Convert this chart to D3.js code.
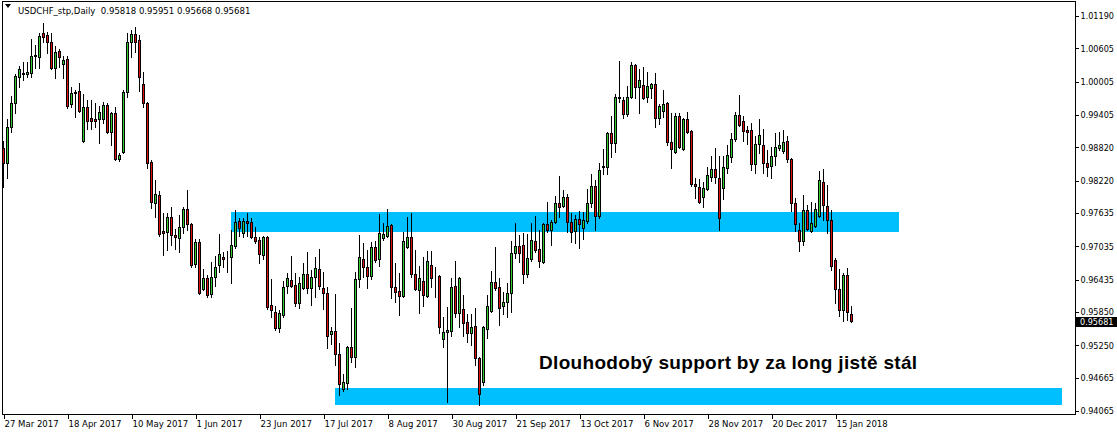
<!DOCTYPE html>
<html><head><meta charset="utf-8">
<script src="https://cdn.jsdelivr.net/npm/d3@7/dist/d3.min.js"></script>
<style>
html,body{margin:0;padding:0;background:#fff;}
svg{display:block;}
</style></head>
<body>
<svg id="c" width="1117" height="436"></svg>
<script>
// ---------- DATA ----------
const symbolTitle = "USDCHF_stp,Daily";
const lastQuote = [0.95818, 0.95951, 0.95668, 0.95681];
const xTickLabels = ["27 Mar 2017","18 Apr 2017","10 May 2017","1 Jun 2017","23 Jun 2017","17 Jul 2017","8 Aug 2017","30 Aug 2017","21 Sep 2017","13 Oct 2017","6 Nov 2017","28 Nov 2017","20 Dec 2017","15 Jan 2018"];
const xTickBars = [0,16,32,48,64,80,96,112,128,144,160,176,192,208];
const yTickValues = [1.01190,1.00605,1.00005,0.99405,0.98820,0.98220,0.97635,0.97035,0.96435,0.95850,0.95250,0.94665,0.94065];

const open = [.98811,.98540,.99190,.99622,1.00091,1.00145,1.00145,1.00163,1.00470,1.00452,
1.00885,1.00849,1.00722,1.00254,1.00560,1.00326,1.00416,.99604,.99803,.99839,
.98937,.99550,.99352,.99334,.99334,.99334,.99586,.99099,.99442,.98613,
.98739,.99821,1.00722,1.00867,1.00758,.99965,.99622,.98558,.97819,.97963,
.97314,.97296,.97566,.97242,.97188,.97386,.97711,.97440,.96718,.97115,
.96267,.96466,.96177,.96484,.96700,.96844,.96826,.96844,.97043,.97494,
.97278,.97494,.97476,.97206,.97151,.96881,.97206,.95979,.95853,.95564,
.95799,.96321,.96430,.96339,.96015,.96285,.96538,.96285,.96484,.96628,
.96285,.96195,.95456,.95510,.95095,.94464,.94572,.95221,.95041,.96448,
.96808,.96664,.96502,.97025,.96808,.97188,.97224,.97422,.96303,.96231,
.96141,.97025,.97206,.96538,.96249,.96412,.96141,.96700,.96484,.96502,
.95365,.95492,.95510,.96321,.95835,.95907,.95672,.95474,.95600,.95023,
.94590,.95546,.95871,.96394,.96303,.95961,.96033,.96195,.96917,.97043,
.97061,.96538,.96808,.97133,.96989,.96754,.97440,.97332,.97476,.97819,
.97765,.97927,.97476,.97314,.97530,.97368,.97494,.97819,.98125,.97584,
.98468,.98468,.99081,.98901,.99713,.99676,.99424,.99731,1.00308,.99911,
.99947,.99731,.99893,.99965,.99352,.99478,.99622,.98919,.98739,.99388,
.98793,.99334,.99117,.98161,.98107,.97927,.98071,.98288,.98432,.98270,
.98089,.98450,.98648,.98973,.99406,.99298,.99135,.99135,.98522,.98883,
.98865,.98540,.98486,.98666,.98811,.98757,.98937,.98613,.97819,.97332,
.97133,.97692,.97314,.97404,.97584,.98197,.97765,.97512,.96790,.96267,
.95889,.96520,.95818];

const high = [.98937,.99334,.99749,1.00145,1.00290,1.00362,1.00362,1.00777,1.00668,1.00885,
1.01065,1.00903,1.00885,1.00650,1.00596,1.00470,1.00470,.99911,.99857,.99983,
.99785,.99676,.99676,.99622,.99568,.99640,.99622,.99460,.99550,.98721,
.99857,1.00885,1.00939,1.00993,1.00849,1.00181,.99640,.98594,.98233,.98035,
.97638,.97638,.97747,.97350,.97602,.97747,.98053,.97458,.97169,.97169,
.96628,.96520,.96754,.96862,.97260,.96935,.96953,.97332,.97692,.97548,
.97548,.97638,.97548,.97386,.97206,.97224,.97224,.96448,.95961,.95889,
.96412,.96556,.96862,.96556,.96484,.96736,.96935,.96610,.96844,.96989,
.96574,.96303,.95582,.96177,.95293,.94734,.95239,.95925,.96574,.97242,
.97097,.96971,.97115,.97133,.97620,.97458,.97711,.97440,.96736,.96556,
.97296,.97566,.97638,.96971,.96682,.96844,.96953,.96953,.96664,.96520,
.95762,.95943,.96466,.96772,.96484,.96159,.95817,.95817,.95925,.95041,
.95600,.96159,.96592,.97025,.96466,.96213,.96376,.97133,.97458,.97242,
.97278,.97260,.97458,.97584,.97332,.97458,.97837,.97512,.97945,.98306,
.98053,.97981,.97638,.97602,.97674,.97656,.98071,.98342,.98233,.98540,
.98793,.99099,.99388,.99785,1.00380,.99731,.99929,1.00362,1.00326,1.00236,
1.00272,1.00181,.99983,1.00163,.99604,.99857,.99640,.99442,.99442,.99442,
.99352,.99460,.99135,.98270,.98251,.98197,.98468,.98666,.98811,.98666,
.98666,.98865,.99081,.99460,.99767,.99388,.99208,.99262,.99027,.99334,
.99153,.98775,.98829,.99081,.99099,.99135,.99027,.98630,.97909,.97458,
.97963,.97783,.97837,.97819,.98396,.98432,.98143,.97692,.96826,.96628,
.96556,.96646,.95951];

const low = [.98107,.98270,.99099,.99442,.99911,1.00037,1.00091,1.00091,1.00254,1.00254,
1.00722,1.00524,1.00236,1.00073,1.00272,1.00073,.99532,.99550,.99370,.99460,
.98919,.99154,.99154,.99190,.98901,.99262,.99081,.98865,.98594,.98576,
.98721,.99731,1.00452,1.00542,.99839,.99550,.98450,.97729,.97566,.97224,
.96881,.96971,.97061,.96989,.96935,.97278,.97332,.96664,.96664,.96177,
.96249,.96123,.96123,.96321,.96574,.96664,.96574,.96376,.97007,.97224,
.97206,.97224,.97188,.97097,.96736,.96808,.95907,.95762,.95528,.95492,
.95762,.96195,.96303,.95961,.95925,.96267,.96195,.95979,.96123,.96267,
.95907,.95203,.95275,.94897,.94356,.94428,.94464,.94951,.94860,.96303,
.96484,.96285,.96448,.96754,.96682,.97151,.97206,.96105,.96033,.95799,
.96123,.97007,.96484,.96249,.95835,.95961,.96123,.96303,.96123,.95474,
.95221,.94229,.95419,.95762,.95582,.95419,.95311,.95257,.94897,.94175,
.94536,.95383,.95853,.96249,.95618,.95817,.95762,.95853,.96826,.96754,
.96376,.96484,.96772,.96935,.96664,.96736,.97296,.97061,.97458,.97566,
.97747,.97296,.97115,.97097,.97007,.97169,.97458,.97747,.97332,.97548,
.98342,.98342,.98648,.98739,.99640,.99352,.99388,.99713,.99713,.99442,
.99695,.99640,.99713,.99190,.99244,.99370,.98865,.98450,.98721,.98811,
.98775,.99081,.98125,.97909,.97819,.97747,.98053,.98215,.98179,.97332,
.97891,.98360,.98558,.98937,.99208,.98937,.98883,.98414,.98360,.98721,
.98360,.98306,.98270,.98504,.98775,.98721,.98558,.97674,.97314,.96953,
.97061,.97332,.97296,.97386,.97566,.97512,.97278,.96610,.96015,.95781,
.95690,.95708,.95668];

const close = [.98540,.99190,.99622,1.00109,1.00236,1.00163,1.00181,1.00470,1.00480,1.00831,
1.00813,1.00722,1.00254,1.00542,1.00452,1.00398,.99568,.99803,.99821,.99478,
.99550,.99298,.99298,.99298,.99460,.99586,.99099,.99442,.98613,.98685,
.99821,1.00722,1.00867,1.00722,1.00091,.99622,.98540,.97837,.97981,.97260,
.97278,.97566,.97242,.97206,.97386,.97711,.97440,.96700,.97115,.96195,
.96466,.96159,.96484,.96664,.96899,.96808,.96830,.97061,.97476,.97368,
.97494,.97458,.97206,.97133,.96899,.97206,.95943,.95889,.95564,.95835,
.96303,.96466,.96321,.96015,.96376,.96538,.96285,.96484,.96646,.96321,
.96195,.95419,.95510,.95095,.94554,.94590,.95221,.95041,.96448,.96844,
.96664,.96502,.97025,.96790,.97278,.97260,.97404,.96303,.96213,.96141,
.97133,.97206,.96538,.96267,.96466,.96159,.96772,.96466,.96480,.95582,
.95492,.95528,.96303,.95835,.96466,.95654,.95474,.95582,.95023,.94374,
.95582,.95961,.96394,.96285,.95925,.96033,.96195,.96917,.97043,.96917,
.96538,.96826,.97151,.96971,.96772,.97440,.97332,.97476,.97819,.97747,
.97927,.97476,.97296,.97530,.97440,.97512,.97819,.98125,.97584,.98414,
.98486,.99081,.98901,.99731,.99720,.99424,.99731,1.00308,.99911,1.00037,
.99713,.99929,.99965,.99352,.99568,.99604,.98919,.98793,.99388,.98829,
.99334,.99099,.98161,.98125,.97837,.98089,.98324,.98432,.98288,.97548,
.98468,.98685,.98973,.99406,.99226,.99117,.99099,.98522,.98883,.99045,
.98540,.98468,.98666,.98829,.98865,.98919,.98613,.97819,.97440,.97133,
.97692,.97350,.97458,.97711,.98233,.97783,.97512,.96682,.96267,.95889,
.96520,.95853,.95681];

// zones: [fromBar, toBar, upperPrice, lowerPrice]
const zoneFrom = [56.9, 82.9];
const zoneTo = [223.9, 264.7];
const zoneTop = [0.97656, 0.94482];
const zoneBottom = [0.97296, 0.94175];
const noteText = "Dlouhodobý support by za long jistě stál";
const notePos = [133.9, 0.94830]; // bar index, price (baseline)

// ---------- CHART ----------
const svg = d3.select("#c");
const FONT = "'DejaVu Sans Condensed','DejaVu Sans',sans-serif";
const x = d3.scaleLinear().domain([0, 212]).range([3.5, 851.5]);
const y = d3.scaleLinear().domain([0.94065, 1.01190]).range([411, 16]);
const py = v => Math.round(y(v));

const plot = svg.append("g");
svg.append("defs").append("clipPath").attr("id","clip")
  .append("rect").attr("x",3).attr("y",2).attr("width",1072).attr("height",412);
plot.attr("clip-path","url(#clip)");

// zones
zoneFrom.forEach((f,i)=>{
  plot.append("rect")
    .attr("x", Math.round(x(f))).attr("y", py(zoneTop[i]))
    .attr("width", Math.round(x(zoneTo[i])) - Math.round(x(f)))
    .attr("height", py(zoneBottom[i]) - py(zoneTop[i]))
    .attr("fill","#00bfff");
});

// candles
const idx = d3.range(open.length);
const cg = plot.append("g").attr("shape-rendering","crispEdges");
cg.selectAll("line.w").data(idx).join("line")
  .attr("x1", i=>x(i)).attr("x2", i=>x(i))
  .attr("y1", i=>py(high[i])).attr("y2", i=>py(low[i])+1)
  .attr("stroke","#000").attr("stroke-width",1);
cg.selectAll("rect.b").data(idx).join("rect")
  .attr("x", i=>x(i)-1)
  .attr("y", i=>py(Math.max(open[i],close[i]))+0.5)
  .attr("width", 2)
  .attr("height", i=>Math.max(0, py(Math.min(open[i],close[i])) - py(Math.max(open[i],close[i]))))
  .attr("fill", i=> close[i] >= open[i] ? "#32cd32" : "#e01010")
  .attr("stroke","#000").attr("stroke-width",1);

// note
svg.append("text").attr("x", x(notePos[0])).attr("y", y(notePos[1]))
  .attr("font-family","'Liberation Sans',Arial,sans-serif").attr("font-weight","bold")
  .attr("font-size","19px").attr("letter-spacing","0.3px").attr("fill","#000").text(noteText);

// frame
svg.append("rect").attr("x",2.5).attr("y",1.5).attr("width",1073).attr("height",413)
  .attr("fill","none").attr("stroke","#000").attr("stroke-width",1).attr("shape-rendering","crispEdges");

// y axis
const ya = svg.append("g").attr("transform","translate(1075.5,0)")
  .call(d3.axisRight(y).tickValues(yTickValues).tickSize(3).tickFormat(d3.format(".5f")));
ya.select(".domain").remove();
ya.selectAll("line").attr("stroke","#000").attr("shape-rendering","crispEdges");
ya.selectAll("text").attr("font-family",FONT).attr("font-size","9px").attr("fill","#000").attr("x",5);

// x axis
const xa = svg.append("g").attr("transform","translate(0,414.5)")
  .call(d3.axisBottom(x).tickValues(xTickBars).tickSize(4).tickFormat((d,i)=>xTickLabels[i]));
xa.select(".domain").remove();
xa.selectAll("line").attr("stroke","#000").attr("shape-rendering","crispEdges");
xa.selectAll("text").attr("font-family",FONT).attr("font-size","9.5px").attr("fill","#000")
  .attr("text-anchor","start").attr("dx","0.5").attr("y",6);

// current price tag
const cp = lastQuote[3];
svg.append("rect").attr("x",1076).attr("y",py(cp)-4).attr("width",41).attr("height",10).attr("fill","#000");
svg.append("text").attr("x",1080).attr("y",py(cp)+1).attr("dy","0.35em")
  .attr("font-family",FONT).attr("font-size","9px").attr("fill","#fff").text(d3.format(".5f")(cp));

// title
svg.append("path").attr("d","M5,4 L11,4 L8,8 Z").attr("fill","#000");
svg.append("text").attr("x",18).attr("y",14).attr("font-family",FONT).attr("font-size","9.5px").attr("fill","#000")
  .attr("xml:space","preserve")
  .text(symbolTitle + "  " + lastQuote.map(d3.format(".5f")).join(" "));
</script>
</body></html>
